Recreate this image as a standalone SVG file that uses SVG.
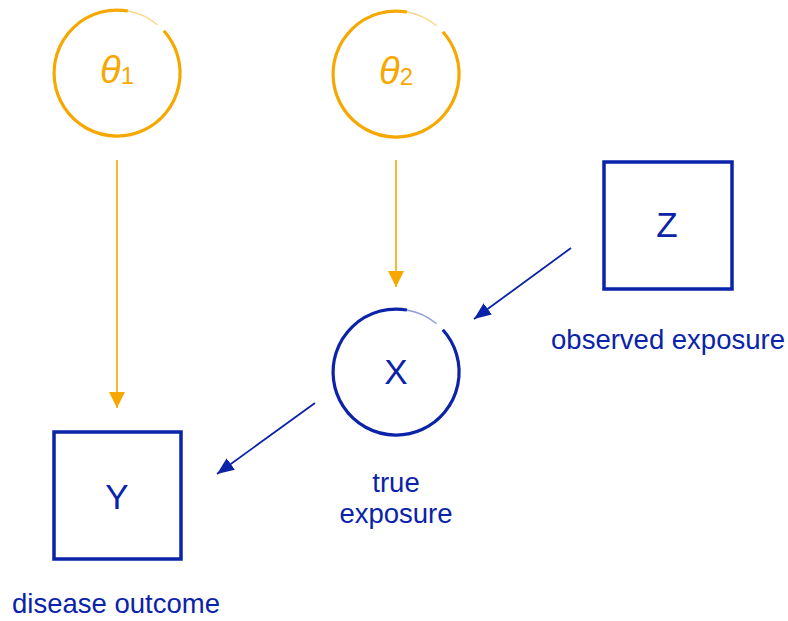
<svg xmlns="http://www.w3.org/2000/svg" width="788" height="621" viewBox="0 0 788 621">
<style>
.bg{fill:#fff}
.oc{fill:none;stroke:#F7A800;stroke-width:3.2}
.ocf{fill:none;stroke:#F7A800;stroke-width:1.4;opacity:.45}
.bc{fill:none;stroke:#0A23A9;stroke-width:3.2}
.bcf{fill:none;stroke:#0A23A9;stroke-width:1.4;opacity:.45}
.sq{fill:none;stroke:#0A23A9;stroke-width:3.5}
.ol{stroke:#F7A800;stroke-width:1.6;fill:none}
.bl{stroke:#0A23A9;stroke-width:1.8;fill:none}
.tn{font-family:"Liberation Sans",Arial,Helvetica,sans-serif;font-size:35px;fill:#0A23A9;text-anchor:middle}
.th{font-family:"Liberation Sans",Arial,Helvetica,sans-serif;font-size:38px;fill:#F7A800;text-anchor:middle}
.lb{font-family:"Liberation Sans",Arial,Helvetica,sans-serif;font-size:27.5px;fill:#0A23A9;text-anchor:middle}
</style>
<defs>
<path id="arcMain" d="M46.8,-42.2 A63,63 0 1 1 10.9,-62"/>
<path id="arcThin" d="M10.9,-62 A63,63 0 0 1 40.5,-48.3"/>
<marker id="ao" markerUnits="userSpaceOnUse" markerWidth="18" markerHeight="18" refX="16" refY="8" orient="auto" viewBox="0 0 18 18">
<path d="M0,0 L16,8 L0,16 z" fill="#F7A800"/>
</marker>
<marker id="ab" markerUnits="userSpaceOnUse" markerWidth="18" markerHeight="18" refX="17" refY="7" orient="auto" viewBox="0 0 18 18">
<path d="M0,0 L17,7 L0,14 z" fill="#0A23A9"/>
</marker>
</defs>
<rect class="bg" width="788" height="621"/>
<g id="connectors">
<line class="ol" x1="117" y1="160" x2="117" y2="408" marker-end="url(#ao)"/>
<line class="ol" x1="396" y1="160" x2="396" y2="287" marker-end="url(#ao)"/>
<line class="bl" x1="571" y1="248" x2="474" y2="319" marker-end="url(#ab)"/>
<line class="bl" x1="315" y1="403" x2="217" y2="474" marker-end="url(#ab)"/>
</g>
<g id="theta1" transform="translate(117,73)">
<use href="#arcMain" class="oc"/>
<use href="#arcThin" class="ocf"/>
<text class="th" x="0" y="10"><tspan font-style="italic">θ</tspan><tspan font-size="24px" dy="1">1</tspan></text>
</g>
<g id="theta2" transform="translate(396,74)">
<use href="#arcMain" class="oc"/>
<use href="#arcThin" class="ocf"/>
<text class="th" x="0" y="10"><tspan font-style="italic">θ</tspan><tspan font-size="24px" dy="1">2</tspan></text>
</g>
<g id="Z">
<rect class="sq" x="604" y="162" width="128" height="127"/>
<text class="tn" x="667" y="237">Z</text>
<text class="lb" x="668" y="349">observed exposure</text>
</g>
<g id="X" transform="translate(396,372)">
<use href="#arcMain" class="bc"/>
<use href="#arcThin" class="bcf"/>
<text class="tn" x="0" y="12">X</text>
<text class="lb" x="0" y="120">true</text>
<text class="lb" x="0" y="151">exposure</text>
</g>
<g id="Y">
<rect class="sq" x="54" y="432" width="127" height="127"/>
<text class="tn" x="117" y="509">Y</text>
<text class="lb" x="116" y="613">disease outcome</text>
</g>
</svg>
